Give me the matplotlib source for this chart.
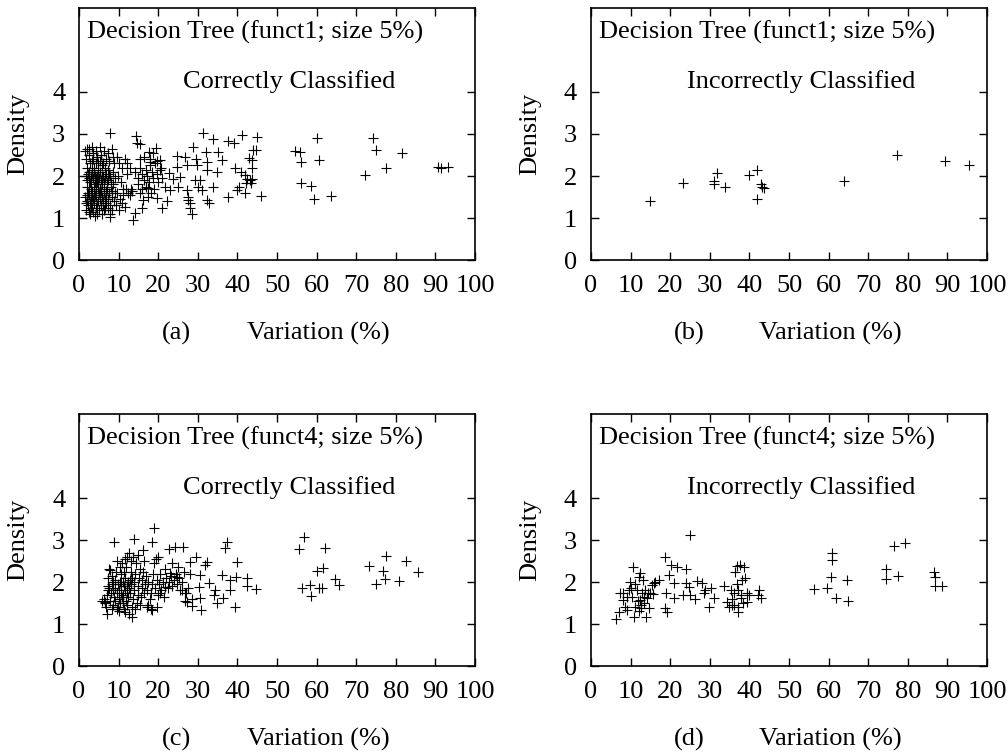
import numpy as np
import matplotlib
matplotlib.use("Agg")
import matplotlib.pyplot as plt

plt.rcParams["font.family"] = ["Liberation Serif", "DejaVu Serif"]

# (variation %, density) pairs
funct1_correct = [
    # dense cluster near the left edge
    (1.6, 2.6), (1.8, 2.4), (2.0, 2.2), (1.7, 2.0), (2.1, 1.9), (1.9, 1.75), (2.2, 1.6), (1.6, 1.5),
    (2.0, 1.4), (2.3, 1.3), (1.8, 1.2), (2.5, 1.15), (2.4, 2.65), (2.6, 2.5), (2.8, 2.3), (2.5, 2.1),
    (2.9, 2.0), (2.7, 1.85), (3.0, 1.7), (2.6, 1.55), (2.9, 1.45), (2.7, 1.35), (3.0, 1.25), (2.8, 1.1),
    (3.2, 2.7), (3.5, 2.55), (3.3, 2.35), (3.8, 2.2), (3.4, 2.05), (3.6, 1.95), (4.0, 1.85), (3.7, 1.75),
    (3.3, 1.65), (4.1, 1.55), (3.5, 1.45), (3.9, 1.35), (4.2, 1.25), (3.6, 1.15), (4.0, 1.05), (4.3, 2.6),
    (4.6, 2.45), (4.4, 2.3), (4.8, 2.15), (4.5, 2.0), (4.9, 1.9), (4.3, 1.8), (4.7, 1.7), (5.0, 1.6),
    (4.4, 1.5), (4.8, 1.4), (4.6, 1.3), (5.0, 1.2), (4.5, 1.1), (3.1, 1.9), (3.9, 2.1), (4.2, 1.7),
    (3.4, 1.5), (5.2, 2.7), (5.5, 2.5), (5.3, 2.35), (5.8, 2.25), (5.4, 2.1), (6.0, 2.0), (5.6, 1.9),
    (5.9, 1.8), (5.3, 1.7), (6.2, 1.6), (5.7, 1.5), (6.1, 1.4), (5.5, 1.3), (6.3, 1.2), (5.8, 1.1),
    (6.4, 2.6), (6.7, 2.4), (6.5, 2.2), (6.9, 2.05), (6.6, 1.95), (7.0, 1.85), (6.4, 1.75), (6.8, 1.65),
    (6.5, 1.45), (6.9, 1.35), (6.6, 1.25), (5.1, 1.95), (5.6, 1.65), (6.0, 2.3), (7.2, 2.55), (7.5, 2.35),
    (7.3, 2.15), (7.8, 2.0), (7.4, 1.9), (8.0, 1.75), (7.6, 1.6), (8.2, 1.5), (7.3, 1.45), (7.9, 1.3),
    (8.4, 1.2), (7.7, 1.1), (8.5, 2.45), (8.8, 2.3), (8.6, 2.1), (9.0, 1.95), (8.7, 1.8), (9.1, 1.6),
    (8.9, 1.4), (8.3, 2.65), (7.1, 1.7), (8.1, 1.85), (7.8, 3.02), (7.8, 1.03),
    (2.2, 2.05), (2.4, 1.75), (2.1, 1.55), (2.6, 1.95), (3.2, 2.15), (3.6, 2.4), (3.0, 1.55), (3.8, 1.6),
    (4.1, 2.0), (4.6, 1.85), (4.9, 2.3), (5.2, 1.45), (5.7, 2.0), (6.2, 1.85), (6.7, 1.55), (7.5, 2.05),
    (2.0, 2.65), (1.7, 1.35), (3.4, 1.25), (5.4, 1.55), (6.0, 1.3), (7.2, 1.25), (8.4, 1.65), (4.4, 1.95),
    # 9-22 %
    (9.5, 2.45), (10.2, 2.3), (10.8, 2.2), (11.5, 2.4), (12.0, 2.3), (12.8, 2.2), (9.8, 2.0), (10.5, 1.85),
    (11.2, 1.7), (9.6, 1.6), (10.3, 1.45), (11.0, 1.55), (11.8, 1.7), (12.4, 1.6), (13.0, 1.7), (13.5, 1.65),
    (12.0, 2.05), (9.3, 1.3), (10.0, 1.2), (10.8, 1.35), (11.6, 1.27), (12.9, 1.55), (13.7, 0.95), (14.1, 1.11),
    (14.2, 2.1), (14.8, 1.95), (15.3, 2.2), (15.8, 2.05), (16.3, 1.9), (16.8, 2.15), (17.2, 2.0), (17.6, 1.85),
    (18.0, 2.25), (18.4, 2.1), (18.8, 1.95), (19.2, 2.3), (19.6, 2.05), (20.0, 1.85), (15.0, 1.8), (16.0, 1.7),
    (17.0, 1.75), (18.2, 1.6), (19.0, 1.7), (15.5, 2.4), (16.5, 2.45), (17.8, 2.4), (18.6, 2.55), (19.8, 2.35),
    (20.6, 2.2), (21.0, 1.95), (14.4, 2.95), (14.7, 2.79), (15.4, 2.76), (17.6, 2.58), (19.4, 2.67),
    (15.8, 1.25), (16.2, 1.43), (17.3, 1.51), (20.9, 1.25), (22.1, 1.41), (19.6, 1.47), (17.5, 1.71),
    (15.4, 1.59), (20.5, 2.38), (17.9, 2.34), (20.5, 2.14),
    # 22-46 %
    (24.7, 2.48), (26.8, 2.46), (29.5, 2.40), (32.2, 2.34), (28.9, 2.70), (32.0, 2.58), (35.2, 2.58),
    (36.0, 2.38), (31.4, 3.02), (33.8, 2.87), (37.7, 2.83), (39.2, 2.78), (41.1, 2.98), (44.9, 2.94),
    (39.4, 2.18), (43.6, 2.18), (44.0, 2.62), (43.0, 2.42), (44.7, 2.62), (43.6, 2.38), (43.6, 1.94),
    (43.4, 1.84), (45.9, 1.52), (27.2, 1.67), (27.6, 1.51), (27.9, 1.35), (28.0, 1.23), (28.6, 1.09),
    (27.6, 1.43), (30.6, 1.90), (30.1, 1.75), (31.0, 1.67), (32.2, 1.43), (32.7, 1.35), (33.9, 1.75),
    (29.3, 1.90), (23.0, 1.67), (25.1, 1.75), (21.7, 1.75), (23.8, 1.94), (25.5, 1.98), (22.6, 2.06),
    (24.7, 2.22), (27.2, 2.26), (29.7, 2.26), (32.2, 2.14), (34.8, 2.10), (37.7, 1.51), (39.8, 1.67),
    (41.9, 1.59), (42.3, 1.94), (43.2, 1.90), (42.2, 1.83), (41.9, 2.02), (40.5, 1.75), (41.0, 2.1),
    # right side
    (54.5, 2.60), (55.8, 2.58), (56.1, 2.34), (60.0, 2.90), (60.7, 2.38), (56.1, 1.83), (58.6, 1.77),
    (59.4, 1.45), (63.6, 1.52), (72.2, 2.03), (74.3, 2.90), (75.0, 2.62), (77.5, 2.20), (81.5, 2.54),
    (90.6, 2.21), (91.4, 2.18), (93.1, 2.21),
]

funct1_incorrect = [
    (15.0, 1.41), (23.2, 1.83), (31.0, 1.88), (31.0, 1.80), (31.8, 2.08), (33.8, 1.74), (39.8, 2.02),
    (41.9, 2.14), (41.9, 1.45), (42.9, 1.82), (43.3, 1.75), (43.7, 1.71), (64.0, 1.88), (77.3, 2.49),
    (89.3, 2.35), (95.4, 2.25),
]

funct4_correct = [
    (5.9, 1.56), (6.6, 1.53), (7.0, 1.25), (7.4, 1.81), (7.8, 2.29), (9.5, 1.35), (13.3, 1.17), (11.6, 1.29),
    (6.2, 1.6), (6.5, 1.5), (6.8, 1.4), (7.0, 1.7), (7.2, 1.9), (7.4, 2.1), (7.6, 2.3), (7.8, 1.55),
    (8.0, 1.75), (8.2, 1.95), (8.4, 2.15), (8.6, 1.45), (8.8, 1.65), (9.0, 1.85), (9.2, 2.05), (9.4, 2.25),
    (9.6, 2.5), (8.3, 1.35), (7.5, 1.85), (8.7, 2.0), (9.8, 1.4), (10.0, 1.6), (10.2, 1.8), (10.4, 2.0),
    (10.6, 2.2), (10.8, 2.45), (11.0, 1.5), (11.2, 1.7), (11.4, 1.9), (11.6, 2.1), (11.8, 2.35), (12.0, 2.6),
    (12.2, 1.45), (12.4, 1.65), (12.6, 1.85), (12.8, 2.05), (13.0, 2.25), (13.2, 2.5), (9.9, 1.95),
    (10.5, 1.75), (11.1, 2.0), (11.7, 1.8), (12.3, 2.0), (12.9, 1.75), (10.3, 2.35), (11.5, 2.55),
    (12.7, 2.7), (10.1, 1.3), (11.3, 1.35), (12.5, 1.25), (13.4, 1.4), (13.6, 1.6), (13.8, 1.8), (14.0, 2.0),
    (14.2, 2.2), (14.4, 2.45), (14.6, 1.5), (14.8, 1.7), (15.0, 1.9), (15.2, 2.1), (15.4, 2.3), (15.6, 1.65),
    (15.8, 1.85), (16.0, 2.05), (16.2, 2.25), (16.4, 1.75), (16.6, 1.95), (16.8, 2.15), (14.1, 1.35),
    (15.3, 1.45), (13.7, 2.6), (14.9, 2.65), (16.5, 2.5), (17.2, 1.8), (17.5, 2.0), (17.8, 1.6), (18.1, 1.75),
    (18.4, 1.95), (18.7, 2.2), (19.0, 2.45), (19.3, 1.85), (19.6, 2.05), (19.9, 1.7), (20.2, 1.95),
    (20.5, 2.2), (20.8, 1.8), (21.2, 2.0), (21.6, 2.3), (22.0, 2.1), (17.4, 1.45), (18.2, 1.35), (19.4, 2.55),
    (20.0, 2.6), (21.4, 1.65), (22.4, 1.85), (22.8, 2.0), (23.2, 2.15), (23.6, 1.9), (24.0, 2.05),
    (24.4, 2.2), (24.8, 1.95), (25.2, 2.1), (25.6, 1.8), (26.0, 2.0), (26.5, 2.25), (27.0, 1.75),
    (27.5, 1.85), (28.0, 2.2), (23.4, 2.45), (25.0, 2.35), (26.8, 1.55), (28.6, 1.6),
    (9.1, 1.55), (10.7, 1.95), (11.9, 1.55), (13.1, 1.95), (10.9, 1.65), (12.1, 1.9), (9.7, 1.75),
    (11.4, 2.25), (13.5, 2.1), (8.5, 1.8), (10.4, 1.5), (12.0, 1.75),
    (18.9, 3.28), (8.9, 2.96), (14.0, 3.02), (18.4, 2.96), (16.2, 2.76), (22.6, 2.78), (24.2, 2.84),
    (26.2, 2.84), (29.5, 2.59), (28.0, 2.48), (37.3, 2.96), (36.9, 2.80), (39.8, 2.48), (39.6, 2.13),
    (42.5, 2.09), (42.4, 1.90), (44.7, 1.83), (39.4, 1.41), (34.8, 1.49), (30.8, 1.33), (28.5, 1.44),
    (32.2, 2.48), (31.8, 2.40), (30.6, 2.17), (30.2, 1.89), (32.9, 1.97), (34.3, 1.81), (36.0, 2.17),
    (38.1, 2.05), (38.1, 1.81), (36.4, 1.61), (30.6, 1.61), (34.0, 1.69), (26.8, 1.73), (27.2, 1.53),
    (25.9, 1.81), (24.7, 2.13), (23.0, 2.21), (21.7, 1.89), (20.5, 1.73), (19.6, 1.41), (18.4, 1.33),
    (17.1, 1.41), (55.6, 2.78), (56.9, 3.08), (62.0, 2.80), (60.0, 2.27), (61.7, 2.33), (56.2, 1.85),
    (58.3, 1.93), (58.5, 1.67), (60.6, 1.85), (61.3, 1.85), (64.6, 2.07), (65.7, 1.93), (73.1, 2.39),
    (75.0, 1.95), (76.8, 2.27), (77.3, 2.06), (77.4, 2.63), (80.8, 2.02), (82.6, 2.51), (85.7, 2.25),
]

funct4_incorrect = [
    (6.3, 1.11), (7.0, 1.28), (7.4, 1.73), (8.2, 1.57), (8.6, 1.41), (9.1, 1.33), (9.5, 1.81), (9.9, 2.01),
    (10.3, 1.65), (10.7, 2.35), (10.9, 1.17), (11.2, 1.41), (11.6, 1.81), (12.0, 2.13), (12.3, 1.57),
    (12.4, 2.21), (12.6, 1.37), (12.9, 1.73), (13.1, 2.05), (13.3, 1.49), (13.7, 1.81), (14.0, 1.17),
    (14.1, 1.61), (14.6, 1.37), (15.0, 1.73), (15.4, 1.93), (15.8, 1.97), (16.2, 2.01), (17.1, 2.05),
    (18.6, 2.60), (18.6, 1.37), (19.2, 1.29), (18.9, 1.73), (19.8, 2.17), (20.2, 2.40), (20.9, 1.98),
    (20.9, 1.63), (21.7, 2.35), (23.3, 1.69), (24.1, 2.30), (24.0, 1.98), (24.7, 1.89), (25.0, 3.13),
    (25.1, 1.69), (26.2, 1.59), (26.8, 2.03), (28.1, 1.98), (28.5, 1.73), (28.9, 1.81), (29.8, 1.41),
    (30.2, 1.85), (31.0, 1.61), (33.6, 1.90), (34.4, 1.53), (34.8, 1.41), (35.3, 1.81), (35.7, 1.45),
    (36.1, 1.73), (36.4, 2.25), (36.8, 2.37), (37.0, 1.41), (37.1, 1.29), (37.2, 1.81), (37.6, 2.40),
    (37.8, 1.61), (38.2, 2.05), (38.6, 2.35), (39.0, 2.09), (39.3, 1.73), (39.5, 1.53), (39.9, 1.69),
    (42.2, 1.69), (42.5, 1.81), (42.9, 1.61), (11.8, 1.55), (12.7, 1.45), (13.5, 1.65), (10.2, 1.85),
    (9.0, 1.65), (8.0, 1.75), (11.0, 1.95), (14.5, 1.75), (15.6, 1.72), (12.2, 1.30), (36.9, 1.95),
    (37.9, 1.70), (38.5, 1.50), (35.5, 1.60), (36.0, 1.45),
    (56.2, 1.83), (59.6, 1.85), (60.8, 2.70), (60.9, 2.52), (60.7, 2.11), (61.9, 1.61), (64.6, 2.05),
    (64.9, 1.56), (74.6, 2.30), (74.5, 2.06), (76.6, 2.86), (77.6, 2.14), (79.4, 2.92), (86.5, 2.25),
    (86.9, 2.11), (86.9, 1.90), (88.6, 1.90),
]

panels = [
    (funct1_correct, "Decision Tree (funct1; size 5%)", "Correctly Classified", "(a)"),
    (funct1_incorrect, "Decision Tree (funct1; size 5%)", "Incorrectly Classified", "(b)"),
    (funct4_correct, "Decision Tree (funct4; size 5%)", "Correctly Classified", "(c)"),
    (funct4_incorrect, "Decision Tree (funct4; size 5%)", "Incorrectly Classified", "(d)"),
]

# axes rectangles in figure fractions
lefts = [0.0784, 0.5863, 0.0784, 0.5863]
bottoms = [0.6547, 0.6547, 0.1155, 0.1155]
width, height = 0.3929, 0.3347

fig = plt.figure(figsize=(10.08, 7.53), dpi=100)
fs = 19

for (pts, title, sub, tag), l, b in zip(panels, lefts, bottoms):
    ax = fig.add_axes([l, b, width, height])
    arr = np.array(pts)
    ax.plot(arr[:, 0], arr[:, 1], linestyle="none", marker="+", color="black",
            markersize=7, markeredgewidth=0.8)
    ax.set_xlim(0, 100)
    ax.set_ylim(0, 6)
    ax.set_xticks(np.arange(0, 101, 10))
    ax.set_yticks([0, 1, 2, 3, 4])
    ax.tick_params(direction="in", top=True, right=True, length=6, width=1,
                   labelsize=fs)
    ax.tick_params(axis="x", pad=11)
    ax.tick_params(axis="y", pad=10)
    for sp in ax.spines.values():
        sp.set_linewidth(1.2)
    ax.text(0.02, 0.905, title, transform=ax.transAxes, fontsize=fs,
            ha="left", va="center")
    ax.text(0.53, 0.707, sub, transform=ax.transAxes, fontsize=fs,
            ha="center", va="center")
    ax.text(-0.153, 0.5, "Density", transform=ax.transAxes, fontsize=fs,
            rotation=90, ha="center", va="center")
    ax.text(0.247, -0.29, tag, transform=ax.transAxes, fontsize=fs,
            ha="center", va="center")
    ax.text(0.604, -0.29, "Variation (%)", transform=ax.transAxes, fontsize=fs,
            ha="center", va="center")

fig.savefig("out.png", dpi=100)
